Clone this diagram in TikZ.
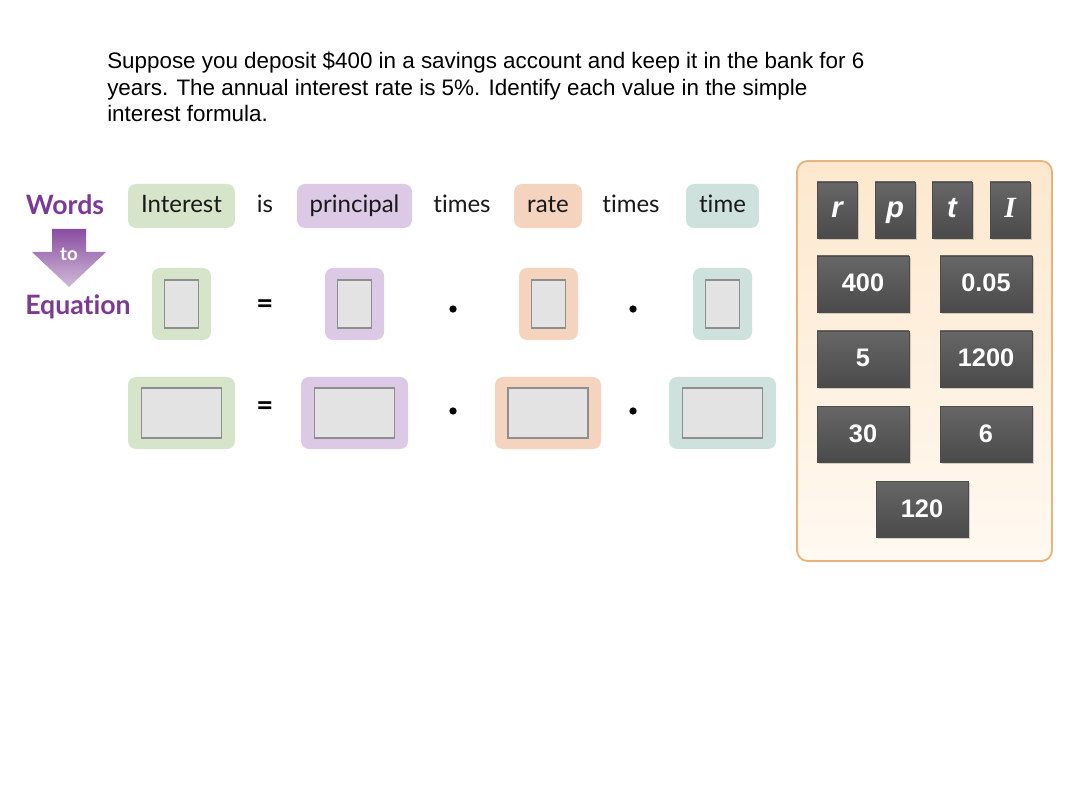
\documentclass[tikz,border=0pt]{standalone}
\usepackage{fontspec}
\setmainfont{Liberation Sans}
\newfontfamily\headfont{Liberation Sans}
\newfontfamily\roundfont[Ligatures={NoCommon}]{Lato}
\newfontfamily\tilefont{Liberation Sans}
\newfontfamily\serifit{Liberation Serif}
\usetikzlibrary{shadows}
\definecolor{wpurple}{HTML}{7B3A96}
\definecolor{pgreen}{HTML}{D6E5C9}
\definecolor{ppurple}{HTML}{DCC9E5}
\definecolor{porange}{HTML}{F4D3BF}
\definecolor{pteal}{HTML}{CFE1DC}
\definecolor{innerfill}{HTML}{E3E3E3}
\definecolor{innerline}{HTML}{8E8E8E}
\definecolor{panelline}{HTML}{E8B47E}
\definecolor{paneltop}{HTML}{FDE8CE}
\definecolor{panelbot}{HTML}{FFF9F1}
\definecolor{tiletop}{HTML}{676767}
\definecolor{tilemid}{HTML}{585858}
\definecolor{tilebot}{HTML}{4A4A4A}
\tikzset{
  headtext/.style={anchor=base west, inner sep=0pt, font=\headfont\fontsize{16.8}{19}\selectfont},
  pill/.style={rounded corners=6pt, minimum height=33pt, inner sep=0pt, text height=13pt, text depth=2.5pt,
    font=\roundfont\fontsize{18}{20}\selectfont, text=black!90},
  plain/.style={inner sep=0pt, text height=13pt, text depth=2.5pt, font=\roundfont\fontsize{18}{20}\selectfont, text=black!90},
  outerS/.style={rounded corners=6pt, minimum width=44.25pt, minimum height=54pt, inner sep=0pt},
  outerW/.style={rounded corners=6pt, minimum height=54pt, inner sep=0pt},
  innerS/.style={fill=innerfill, draw=innerline, line width=1.1pt, minimum width=25.5pt, minimum height=36pt, inner sep=0pt},
  innerW/.style={fill=innerfill, draw=innerline, line width=1.1pt, minimum width=60pt, minimum height=37.5pt, inner sep=0pt},
  tile/.style={draw=black!70, line width=0.6pt, top color=tiletop, bottom color=tilebot, middle color=tilemid,
    minimum height=42pt, inner sep=0pt, text height=14pt, text depth=2pt, text=white,
    font=\tilefont\bfseries\fontsize{19}{20}\selectfont,
    drop shadow={shadow xshift=1.2pt, shadow yshift=-1.5pt, opacity=0.35}},
  tileS/.style={tile, minimum width=30pt, text height=13pt, text depth=2pt, font=\tilefont\bfseries\itshape\fontsize{22}{22}\selectfont},
  tileW/.style={tile, minimum width=69pt},
  dotmark/.style={circle, fill=black, inner sep=0pt, minimum size=5.5pt},
  eqsign/.style={inner sep=0pt, font=\roundfont\bfseries\fontsize{22}{22}\selectfont},
  wordlabel/.style={font=\roundfont\bfseries\fontsize{20}{22}\selectfont, text=wpurple, inner sep=0pt}
}
\begin{document}
\begin{tikzpicture}[x=0.75pt, y=-0.75pt]
\useasboundingbox[fill=white] (0,0) rectangle (1066,812);

% header
\node[headtext] (h1) at (107,69) {Suppose you deposit \$400 in a savings account and keep it in the bank for 6};
\node[headtext] (h2) at (107,96) {years. The annual interest rate is 5\%. Identify each value in the simple};
\node[headtext] (h3) at (107,122) {interest formula.};

% words / arrow / equation
\node[wordlabel] (words) at (65,205) {Words};
\node[wordlabel] (equation) at (78,307) {Equation};
\shade[top color=wpurple!90, bottom color=wpurple!35]
  (52,229) -- (86,229) -- (86,252) -- (106,252) -- (69,287) -- (32,252) -- (52,252) -- cycle;
\node[font=\roundfont\bfseries\fontsize{14}{16}\selectfont, text=white, inner sep=0pt] (to) at (69,254) {to};

% row 1
\node[pill, fill=pgreen, minimum width=80.25pt] (interest) at (181.5,206) {Interest};
\node[plain] (is) at (265,206) {is};
\node[pill, fill=ppurple, minimum width=86.25pt] (principal) at (354.5,206) {principal};
\node[plain] (times1) at (462,206) {times};
\node[pill, fill=porange, minimum width=51pt] (rate) at (548,206) {rate};
\node[plain] (times2) at (631,206) {times};
\node[pill, fill=pteal, minimum width=54.75pt] (time) at (722.5,206) {time};

% row 2
\node[outerS, fill=pgreen] (g2) at (181.5,304) {};
\node[innerS] (g2i) at (g2) {};
\node[outerS, fill=ppurple] (p2) at (354.5,304) {};
\node[innerS] (p2i) at (p2) {};
\node[outerS, fill=porange] (o2) at (548.5,304) {};
\node[innerS] (o2i) at (o2) {};
\node[outerS, fill=pteal] (t2) at (722.5,304) {};
\node[innerS] (t2i) at (t2) {};
\node[eqsign] (eq2) at (265,307) {=};
\node[dotmark] (d21) at (453,309) {};
\node[dotmark] (d22) at (633,309) {};

% row 3
\node[outerW, fill=pgreen, minimum width=80.25pt] (g3) at (181.5,413) {};
\node[innerW] (g3i) at (g3) {};
\node[outerW, fill=ppurple, minimum width=80.25pt] (p3) at (354.5,413) {};
\node[innerW] (p3i) at (p3) {};
\node[outerW, fill=porange, minimum width=79.5pt] (o3) at (548,413) {};
\node[innerW] (o3i) at (o3) {};
\node[outerW, fill=pteal, minimum width=80.25pt] (t3) at (722.5,413) {};
\node[innerW] (t3i) at (t3) {};
\node[eqsign] (eq3) at (265,409) {=};
\node[dotmark] (d31) at (453,411) {};
\node[dotmark] (d32) at (633,411) {};

% panel
\draw[rounded corners=8pt, line width=1.4pt, draw=panelline, top color=paneltop, bottom color=panelbot]
  (797,161) rectangle (1052,561);

\node[tileS] (tr) at (837,210) {r};
\node[tileS] (tp) at (895,210) {p};
\node[tileS] (tt) at (952,210) {t};
\node[tileS, font=\serifit\bfseries\itshape\fontsize{22}{22}\selectfont] (tI) at (1010,210) {I};
\node[tileW] (t400) at (863,284) {400};
\node[tileW] (t005) at (986,284) {0.05};
\node[tileW] (t5) at (863,359) {5};
\node[tileW] (t1200) at (986,359) {1200};
\node[tileW] (t30) at (863,434) {30};
\node[tileW] (t6) at (986,434) {6};
\node[tileW] (t120) at (922,509) {120};
\end{tikzpicture}
\end{document}
